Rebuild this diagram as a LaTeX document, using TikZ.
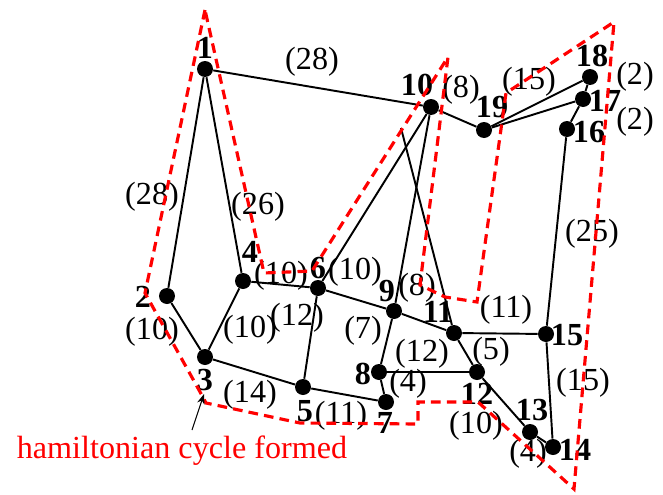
\documentclass[tikz,border=0pt]{standalone}
\usepackage{fontspec}
\setmainfont{Liberation Serif}
\usetikzlibrary{arrows.meta}

\begin{document}
\begin{tikzpicture}[x=0.02cm, y=-0.02cm, >=Stealth,
    vtx/.style={circle, fill=black, inner sep=0pt, minimum size=0.32cm},
    num/.style={font=\fontsize{18.3}{21}\selectfont\bfseries, inner sep=0pt},
    wt/.style={font=\fontsize{18.3}{21}\selectfont, inner sep=0pt},
    edge/.style={line width=1.1pt},
    tour/.style={red, line width=1.8pt, dash pattern=on 5.5pt off 3.5pt}]

  \useasboundingbox (0,0) rectangle (663,494);

  % vertices
  \node[vtx] (v1) at (205,69) {};
  \node[vtx] (v2) at (167,296) {};
  \node[vtx] (v3) at (205,357) {};
  \node[vtx] (v4) at (243,281) {};
  \node[vtx] (v5) at (303,387) {};
  \node[vtx] (v6) at (318,288) {};
  \node[vtx] (v7) at (386,402) {};
  \node[vtx] (v8) at (379,372) {};
  \node[vtx] (v9) at (394,311) {};
  \node[vtx] (v10) at (431,107) {};
  \node[vtx] (v11) at (454,333) {};
  \node[vtx] (v12) at (477,372) {};
  \node[vtx] (v13) at (530,432) {};
  \node[vtx] (v14) at (553,447) {};
  \node[vtx] (v15) at (546,334) {};
  \node[vtx] (v16) at (567,129) {};
  \node[vtx] (v17) at (583,99) {};
  \node[vtx] (v18) at (590,77) {};
  \node[vtx] (v19) at (484,130) {};
  \coordinate (t10) at (401,128); % loose end of the line to 11

  % vertex numbers
  \node[num] (n1) at (205,48) {1};
  \node[num] (n2) at (143,297) {2};
  \node[num] (n3) at (205,380) {3};
  \node[num] (n4) at (250,252) {4};
  \node[num] (n5) at (305,411) {5};
  \node[num] (n6) at (318,268) {6};
  \node[num] (n7) at (385,423) {7};
  \node[num] (n8) at (363,374) {8};
  \node[num] (n9) at (387,291) {9};
  \node[num] (n10) at (417,85) {10};
  \node[num] (n11) at (438,312) {11};
  \node[num] (n12) at (477,394) {12};
  \node[num] (n13) at (532,410) {13};
  \node[num] (n14) at (575,450) {14};
  \node[num] (n15) at (567,335) {15};
  \node[num] (n16) at (589,132) {16};
  \node[num] (n17) at (605,101) {17};
  \node[num] (n18) at (592,56) {18};
  \node[num] (n19) at (492,107) {19};

  % edges
  \draw[edge] (v1) -- (v10);
  \draw[edge] (v1) -- (v2);
  \draw[edge] (v1) -- (v4);
  \draw[edge] (v2) -- (v3);
  \draw[edge] (v3) -- (v4);
  \draw[edge] (v3) -- (v5);
  \draw[edge] (v4) -- (v6);
  \draw[edge] (v6) -- (v5);
  \draw[edge] (v6) -- (v10);
  \draw[edge] (v6) -- (v9);
  \draw[edge] (v9) -- (v11);
  \draw[edge] (v10) -- (v9);
  \draw[edge] (t10) -- (v11);
  \draw[edge] (v10) -- (v19);
  \draw[edge] (v19) -- (v18);
  \draw[edge] (v19) -- (v17);
  \draw[edge] (v18) -- (v17);
  \draw[edge] (v17) -- (v16);
  \draw[edge] (v16) -- (v15);
  \draw[edge] (v11) -- (v15);
  \draw[edge] (v15) -- (v14);
  \draw[edge] (v11) -- (v12);
  \draw[edge] (v12) -- (v13);
  \draw[edge] (v13) -- (v14);
  \draw[edge] (v8) -- (v12);
  \draw[edge] (v9) -- (v8);
  \draw[edge] (v8) -- (v7);
  \draw[edge] (v7) -- (v5);

  % weights
  \node[wt] (w1) at (312,62) {(28)};
  \node[wt] (w2) at (152,197) {(28)};
  \node[wt] (w3) at (258,207) {(26)};
  \node[wt] (w4) at (152,332) {(10)};
  \node[wt] (w5) at (250,330) {(10)};
  \node[wt] (w6) at (281,276) {(10)};
  \node[wt] (w7) at (297,318) {(12)};
  \node[wt] (w8) at (355,272) {(10)};
  \node[wt] (w9) at (417,288) {(8)};
  \node[wt] (w10) at (461,90) {(8)};
  \node[wt] (w11) at (529,82) {(15)};
  \node[wt] (w12) at (635,77) {(2)};
  \node[wt] (w13) at (635,122) {(2)};
  \node[wt] (w14) at (592,234) {(25)};
  \node[wt] (w15) at (506,310) {(11)};
  \node[wt] (w16) at (363,331) {(7)};
  \node[wt] (w17) at (422,354) {(12)};
  \node[wt] (w18) at (491,352) {(5)};
  \node[wt] (w19) at (408,384) {(4)};
  \node[wt] (w20) at (250,395) {(14)};
  \node[wt] (w21) at (341,416) {(11)};
  \node[wt] (w22) at (476,426) {(10)};
  \node[wt] (w23) at (528,454) {(4)};
  \node[wt] (w24) at (583,383) {(15)};

  % the tour
  \draw[tour] (205,10) -- (145,293) -- (199,390) -- (206,403) -- (300,423)
    -- (418,424) -- (418,402) -- (478,402) -- (574,489) -- (614,22)
    -- (506,93) -- (477,302) -- (445,297) -- (420,285) -- (448,57)
    -- (312,271) -- (264,273) -- cycle;

  \node[wt, red] (note) at (182,451) {hamiltonian cycle formed};
  \coordinate (tail) at (192,430);
  \coordinate (tip) at (204,394);
  \draw[->, line width=0.6pt] (tail) -- (tip);
\end{tikzpicture}
\end{document}
